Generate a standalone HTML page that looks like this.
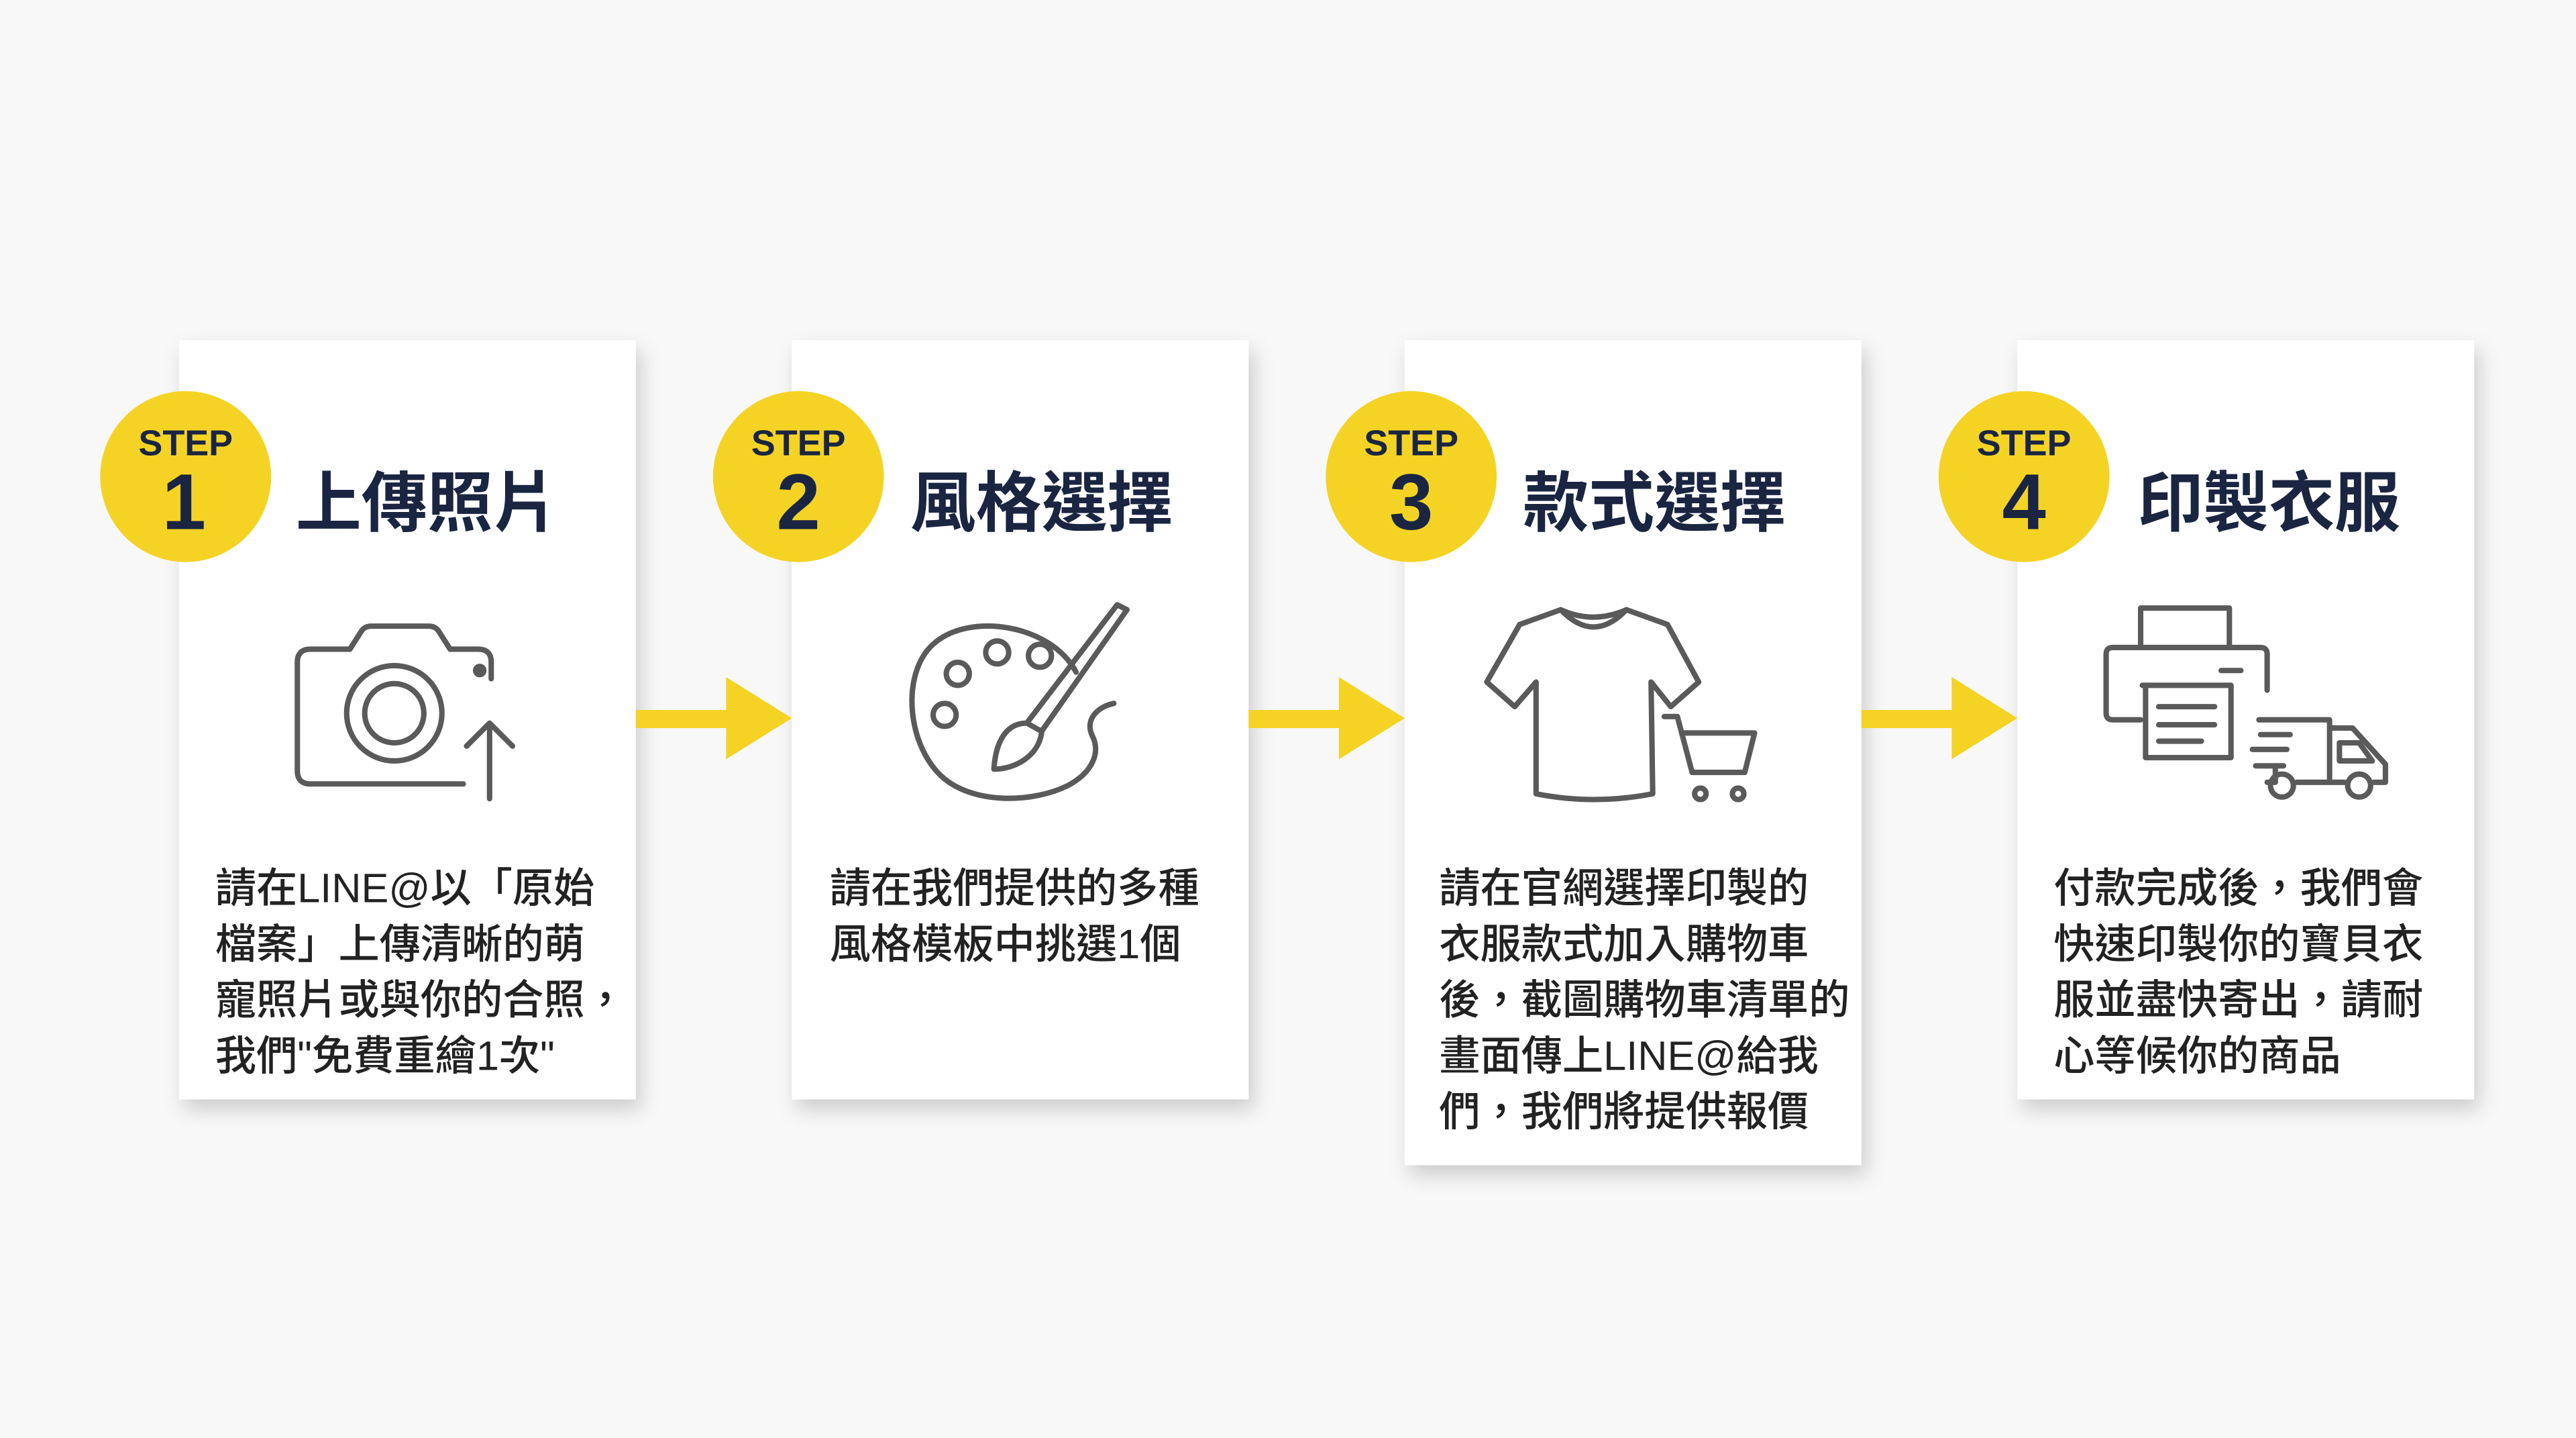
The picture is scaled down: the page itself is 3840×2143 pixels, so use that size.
<!DOCTYPE html>
<html><head><meta charset="utf-8"><style>
html,body{margin:0;padding:0;background:#f7f7f7;}
svg{display:block;}
.t{font-family:"Liberation Sans","Noto Sans CJK TC",sans-serif;}
</style></head><body>
<svg width="3840" height="2143" viewBox="0 0 1568 875" xmlns="http://www.w3.org/2000/svg">
<defs>
<filter id="sh" x="-20%" y="-20%" width="140%" height="140%"><feDropShadow dx="3" dy="6" stdDeviation="6" flood-color="#000" flood-opacity="0.18"/></filter>
</defs>
<rect width="1568" height="875" fill="#f8f8f8"/>
<g fill="#fff" filter="url(#sh)">
<rect x="109" y="207" width="278" height="462"/>
<rect x="482" y="207" width="278" height="462"/>
<rect x="855" y="207" width="278" height="502"/>
<rect x="1228" y="207" width="278" height="462"/>
</g>
<g fill="#f4d324">
<rect x="387" y="432" width="58" height="11"/><polygon points="442,412 482,437 442,462"/>
<rect x="760" y="432" width="58" height="11"/><polygon points="815,412 855,437 815,462"/>
<rect x="1133" y="432" width="58" height="11"/><polygon points="1188,412 1228,437 1188,462"/>
<circle cx="113" cy="290" r="52"/><circle cx="486" cy="290" r="52"/><circle cx="859" cy="290" r="52"/><circle cx="1232" cy="290" r="52"/>
</g>
<g class="t" fill="#1a2541" font-weight="700" text-anchor="middle">
<text x="113" y="277" font-size="22">STEP</text><text x="112" y="322" font-size="48">1</text>
<text x="486" y="277" font-size="22">STEP</text><text x="486" y="322" font-size="48">2</text>
<text x="859" y="277" font-size="22">STEP</text><text x="859" y="322" font-size="48">3</text>
<text x="1232" y="277" font-size="22">STEP</text><text x="1232" y="322" font-size="48">4</text>
</g>
<g class="t" fill="#1a2541" font-weight="700" font-size="40">
<text x="180" y="320">上傳照片</text>
<text x="554" y="320">風格選擇</text>
<text x="927" y="320">款式選擇</text>
<text x="1301" y="320">印製衣服</text>
</g>
<g class="t" fill="#222" font-size="25" font-weight="500">
<text x="131" y="549">請在LINE@以「原始</text>
<text x="131" y="583">檔案」上傳清晰的萌</text>
<text x="131" y="617">寵照片或與你的合照，</text>
<text x="131" y="651">我們"免費重繪1次"</text>
<text x="505" y="549">請在我們提供的多種</text>
<text x="505" y="583">風格模板中挑選1個</text>
<text x="876" y="549">請在官網選擇印製的</text>
<text x="876" y="583">衣服款式加入購物車</text>
<text x="876" y="617">後，截圖購物車清單的</text>
<text x="876" y="651">畫面傳上LINE@給我</text>
<text x="876" y="685">們，我們將提供報價</text>
<text x="1250" y="549">付款完成後，我們會</text>
<text x="1250" y="583">快速印製你的寶貝衣</text>
<text x="1250" y="617">服並盡快寄出，請耐</text>
<text x="1250" y="651">心等候你的商品</text>
</g>
<g fill="none" stroke="#5a5a5a" stroke-width="3.3" stroke-linecap="round" stroke-linejoin="round">
<path d="M282,477 H189 Q181,477 181,469 V403 Q181,395 189,395 H213 L220,384 Q222,381 226,381 H261 Q265,381 267,384 L274,395 H291 Q299,395 299,403 V413"/>
<circle cx="240" cy="434" r="29"/><circle cx="240" cy="434" r="18"/>
<circle cx="292" cy="408" r="2.5" fill="#5a5a5a"/>
<path d="M298,486 V440 M284,454 L298,440 L312,454"/>
<path d="M655,409 C640,380 590,372 568,392 C548,410 552,455 575,474 C595,490 630,488 650,478 C665,470 670,458 665,448 C660,438 668,430 678,428"/>
<circle cx="583" cy="410" r="7"/><circle cx="607" cy="397" r="7"/><circle cx="633" cy="399" r="7"/><circle cx="575" cy="435" r="7"/>
<path d="M686,371 L634,445 L625,440 L680,368 Z"/>
<path d="M625,440 C612,440 606,452 605,468 C618,468 632,460 634,446"/>
<path d="M950,371 Q970,392 990,371 L1015,380 L1034,415 L1017,430 L1005,415 L1006,483 Q970,490 935,483 L935,415 L922,430 L905,415 L925,380 Z"/>
<path d="M950,371 Q970,380 990,371"/>
<path d="M1013,436 H1021 L1030,470 H1062 L1068,446 H1024"/>
<circle cx="1035" cy="483" r="3.5"/><circle cx="1058" cy="483" r="3.5"/>
<path d="M1303,394 V370 H1357 V394"/>
<path d="M1303,438 H1286 Q1282,438 1282,434 V398 Q1282,394 1286,394 H1376 Q1380,394 1380,398 V420"/>
<path d="M1304,417 H1358 M1306,417 V461 H1358 V417"/>
<path d="M1314,430 H1348 M1314,441 H1348 M1314,451 H1340"/>
<path d="M1352,408 H1364"/>
<path d="M1375,438 H1418 V475 M1418,443 H1432 L1452,465 V476 H1445"/>
<path d="M1376,447 H1394 M1371,456 H1392 M1373,466 H1390"/>
<path d="M1385,466 V476 H1380 M1398,476 H1427"/>
<circle cx="1389" cy="478" r="7"/><circle cx="1436" cy="478" r="7"/>
<path d="M1424,452 H1436 L1444,463 H1424 Z"/>
</g>
</svg>
</body></html>
